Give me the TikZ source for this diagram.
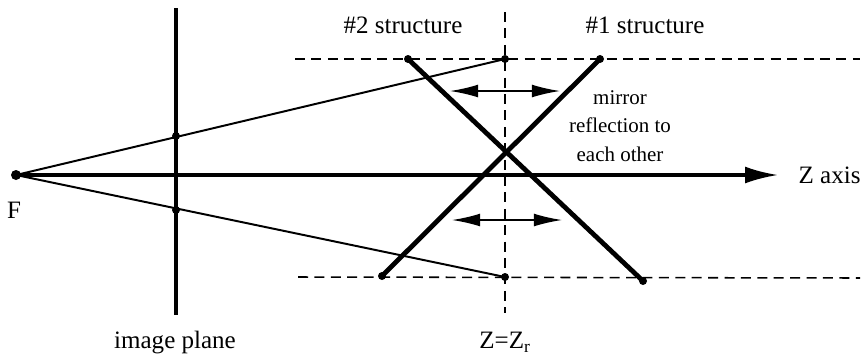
\documentclass[tikz,border=0pt]{standalone}
\usepackage{fontspec}
\setmainfont{Liberation Serif}
\usetikzlibrary{arrows.meta, positioning}

\begin{document}
\begin{tikzpicture}[x=0.025cm, y=-0.025cm,
    lbl/.style={inner sep=1pt, font=\fontsize{17.8}{20}\selectfont},
    ray/.style={line width=1.4pt},
    guide/.style={line width=1.1pt, dash pattern=on 0.25cm off 0.16cm},
    struct/.style={line width=3.4pt},
    mirrorarrow/.style={line width=1.1pt, {Latex[length=0.7cm, width=0.32cm]}-{Latex[length=0.7cm, width=0.32cm]}}]
    \useasboundingbox (0,0) rectangle (863,358);

    % 1. Các điểm chính
    \coordinate (F) at (16,175);
    \coordinate (P1) at (176,136);
    \coordinate (P2) at (176,210);
    \coordinate (T) at (505,59);
    \coordinate (B) at (505,277);
    \coordinate (S2a) at (408,59);
    \coordinate (S2b) at (643,281);
    \coordinate (S1a) at (600,59);
    \coordinate (S1b) at (382,276);

    % 2. Đường nét đứt
    \draw[guide] (295,59) -- (860,59);
    \draw[guide] (298,277) -- (860,278);
    \draw[guide] (505,12) -- (505,313);

    % 3. Mặt phẳng ảnh và trục Z
    \draw[line width=2.2pt] (176,8) -- (176,315);
    \coordinate (Zend) at (778,175);
    \draw[line width=2.2pt, -{Latex[length=0.82cm, width=0.42cm]}] (F) -- (Zend);

    % 4. Các tia từ F
    \draw[ray] (F) -- (T);
    \draw[ray] (F) -- (B);

    % 5. Hai cấu trúc
    \draw[struct] (S2a) -- (S2b);
    \draw[struct] (S1a) -- (S1b);

    % 6. Mũi tên đối xứng
    \coordinate (ma) at (450,91);
    \coordinate (mb) at (560,91);
    \coordinate (mc) at (452,220);
    \coordinate (md) at (562,220);
    \draw[mirrorarrow] (ma) -- (mb);
    \draw[mirrorarrow] (mc) -- (md);

    % 7. Các điểm chấm
    \fill (F) circle (5);
    \foreach \p in {P1, P2, T, B, S2a, S2b, S1a, S1b}
        \fill (\p) circle (4);

    % 8. Nhãn
    \node[lbl] (lblF) at (14,210) {F};
    \node[lbl] (lblplane) at (175,343) {image plane};
    \node[lbl] (lblZr) at (505,342) {Z=Z$_\mathrm{r}$};
    \node[lbl] (lbls2) at (403,25) {\#2 structure};
    \node[lbl] (lbls1) at (645,25) {\#1 structure};
    \node[lbl, anchor=west] (lblZ) at (797,175) {Z axis};
    \node[align=center, inner sep=1pt, font=\fontsize{14.9}{20.5}\selectfont] (lblmirror) at (620,126)
        {mirror\\reflection to\\each other};
\end{tikzpicture}
\end{document}
